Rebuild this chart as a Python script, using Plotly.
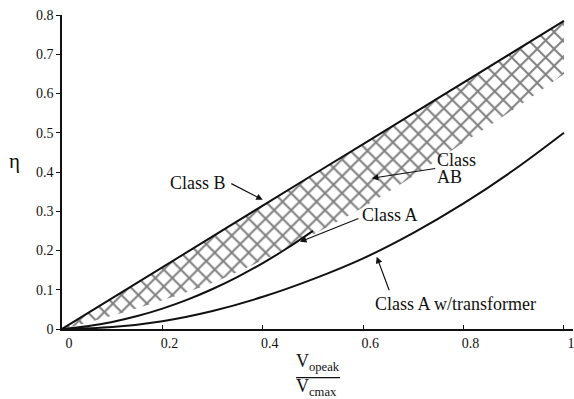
import plotly.graph_objects as go

# ---- data ----
x_b = [0.0, 0.1, 0.2, 0.3, 0.4, 0.5, 0.6, 0.7, 0.8, 0.9, 1.0]
eta_class_b = [0.0, 0.079, 0.157, 0.236, 0.314, 0.393, 0.471, 0.550, 0.628, 0.707, 0.785]

x_ab_low = [0.0, 0.05, 0.1, 0.15, 0.2, 0.3, 0.4, 0.5, 0.6, 0.7, 0.8, 0.9, 1.0]
eta_ab_low = [0.0, 0.016, 0.034, 0.053, 0.073, 0.118, 0.175, 0.24, 0.31, 0.39, 0.475, 0.56, 0.65]

x_a = [0.0, 0.05, 0.1, 0.15, 0.2, 0.25, 0.3, 0.35, 0.4, 0.45, 0.5]
eta_class_a = [0.0, 0.007, 0.018, 0.033, 0.052, 0.075, 0.102, 0.133, 0.168, 0.207, 0.25]

x_at = [0.0, 0.1, 0.2, 0.3, 0.4, 0.5, 0.6, 0.7, 0.8, 0.9, 1.0]
eta_class_a_tr = [0.0, 0.005, 0.02, 0.046, 0.082, 0.127, 0.18, 0.245, 0.32, 0.405, 0.5]

x_ticks = [0, 0.2, 0.4, 0.6, 0.8, 1.0]
x_tick_labels = ["0", "0.2", "0.4", "0.6", "0.8", "1"]
y_ticks = [0, 0.1, 0.2, 0.3, 0.4, 0.5, 0.6, 0.7, 0.8]
y_tick_labels = ["0", "0.1", "0.2", "0.3", "0.4", "0.5", "0.6", "0.7", "0.8"]

SERIF = "Liberation Serif"
INK = "#111111"

fig = go.Figure()

# lower boundary of class AB region (invisible line)
fig.add_trace(go.Scatter(x=x_ab_low, y=eta_ab_low, mode="lines",
                         line=dict(width=0, color="rgba(0,0,0,0)", shape="spline"),
                         hoverinfo="skip", showlegend=False))
# Class B line with hatched fill down to the AB boundary
fig.add_trace(go.Scatter(x=x_b, y=eta_class_b, mode="lines",
                         line=dict(width=2, color=INK),
                         fill="tonexty", fillcolor="white",
                         fillpattern=dict(shape="x", size=12, solidity=0.3,
                                          fgcolor="#000000", bgcolor="white"),
                         showlegend=False))
# Class A
fig.add_trace(go.Scatter(x=x_a, y=eta_class_a, mode="lines",
                         line=dict(width=2, color=INK, shape="spline"),
                         showlegend=False))
# Class A with transformer
fig.add_trace(go.Scatter(x=x_at, y=eta_class_a_tr, mode="lines",
                         line=dict(width=2, color=INK, shape="spline"),
                         showlegend=False))

label_font = dict(family=SERIF, size=18, color=INK)

def arrow(x, y, ax, ay):
    fig.add_annotation(x=x, y=y, ax=ax, ay=ay, axref="pixel", ayref="pixel",
                       text="", showarrow=True, arrowhead=2, arrowsize=1.1,
                       arrowwidth=1.2, arrowcolor=INK, standoff=0, startstandoff=0)

def label(x, y, text, anchor="left"):
    fig.add_annotation(x=x, y=y, text=text, showarrow=False, xanchor=anchor,
                       yanchor="middle", font=label_font)

# Class B
label(0.331, 0.372, "Class B", "right")
arrow(0.400, 0.329, -33, -17)
# Class AB
label(0.744, 0.431, "Class")
label(0.744, 0.388, "AB")
arrow(0.617, 0.384, 65, -10)
# Class A
label(0.594, 0.291, "Class A")
arrow(0.474, 0.222, 60, -24)
# Class A w/transformer
label(0.619, 0.064, "Class A w/transformer")
arrow(0.627, 0.184, 13, 35)

# y-axis title (eta)
fig.add_annotation(xref="paper", yref="y", x=-0.108, y=0.428, text="η",
                   showarrow=False, font=dict(family=SERIF, size=21, color=INK))
# x-axis title as a fraction
fig.add_annotation(xref="paper", yref="paper", x=0.501, y=-0.151,
                   text="V<sub>opeak</sub>", showarrow=False,
                   font=dict(family=SERIF, size=18, color=INK))
fig.add_annotation(xref="paper", yref="paper", x=0.499, y=-0.229,
                   text="V<sub>cmax</sub>", showarrow=False,
                   font=dict(family=SERIF, size=18, color=INK))
fig.add_shape(type="line", xref="paper", yref="paper",
              x0=0.458, x1=0.544, y0=-0.155, y1=-0.155,
              line=dict(color=INK, width=1.2))

fig.update_layout(
    width=574, height=399,
    margin=dict(l=62, r=1, t=15, b=70),
    paper_bgcolor="white", plot_bgcolor="white",
    showlegend=False,
    xaxis=dict(range=[0, 1.018], showline=True, linecolor=INK, linewidth=1.5,
               ticks="inside", ticklen=4, tickcolor=INK, tickwidth=1.2,
               tickvals=x_ticks, ticktext=x_tick_labels, ticklabelshift=7,
               ticklabeloverflow="allow",
               showgrid=False, zeroline=False,
               tickfont=dict(family=SERIF, size=14, color=INK)),
    yaxis=dict(range=[0, 0.8], showline=True, linecolor=INK, linewidth=1.5,
               ticks="outside", ticklen=4, tickcolor=INK, tickwidth=1.2,
               tickvals=y_ticks, ticktext=y_tick_labels,
               showgrid=False, zeroline=False,
               tickfont=dict(family=SERIF, size=14, color=INK)),
)

fig.write_html("out.html", config={"displayModeBar": False},
               post_script="document.body.style.margin='0';document.body.style.padding='0';")
